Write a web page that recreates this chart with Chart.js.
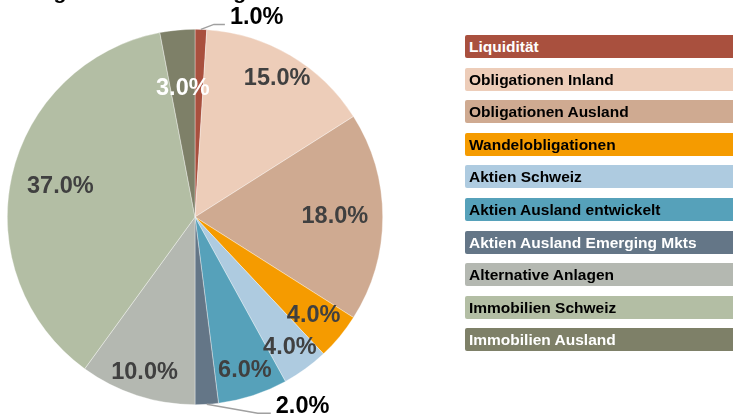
<!DOCTYPE html>
<html>
<head>
<meta charset="utf-8">
<script src="https://cdn.jsdelivr.net/npm/chart.js@4/dist/chart.umd.min.js"></script>
<style>
  html, body { margin: 0; padding: 0; background: #fff; }
  #wrap { position: relative; width: 733px; height: 420px; overflow: hidden; font-family: "Liberation Sans", Arial, sans-serif; }
  #wrap canvas { position: absolute; left: 0; top: 0; }
  .leg { position: absolute; left: 465px; width: 280px; height: 23px; border-radius: 2px;
         font: bold 15.5px "Liberation Sans", Arial, sans-serif; line-height: 23px; padding-left: 4px; box-sizing: border-box; white-space: nowrap; }
</style>
</head>
<body>
<div id="wrap">
  <canvas id="c" width="733" height="420"></canvas>
</div>
<script>
const titleText = "Strategische Gewichtung";
const categories = ["Liquidität", "Obligationen Inland", "Obligationen Ausland", "Wandelobligationen", "Aktien Schweiz", "Aktien Ausland entwickelt", "Aktien Ausland Emerging Mkts", "Alternative Anlagen", "Immobilien Schweiz", "Immobilien Ausland"];
const values = [1, 15, 18, 4, 4, 6, 2, 10, 37, 3];
const colors = ["#A9503E", "#EDCDB9", "#CFAA91", "#F59B00", "#AECBE0", "#56A1BA", "#647687", "#B4B8B1", "#B3BEA4", "#7E8068"];
const legendTextColors = ["#fff", "#000", "#000", "#000", "#000", "#000", "#fff", "#000", "#000", "#fff"];
const labelColors = ["#000", "#404040", "#404040", "#404040", "#404040", "#404040", "#000", "#404040", "#404040", "#fff"];
const labelRadius = [0, 0.86, 0.745, 0.82, 0.86, 0.86, 0, 0.87, 0.735, 0.69];
const outsideLabel = [true, false, false, false, false, false, true, false, false, false];

// legend
const wrap = document.getElementById('wrap');
categories.forEach((c, i) => {
  const d = document.createElement('div');
  d.className = 'leg';
  d.style.top = (35 + i * 32.6) + 'px';
  d.style.background = colors[i];
  d.style.color = legendTextColors[i];
  d.textContent = c;
  wrap.appendChild(d);
});

const labelPlugin = {
  id: 'labels',
  afterDraw(chart) {
    const ctx = chart.ctx;
    ctx.save();
    // title (cut off at top)
    ctx.font = 'bold 21px "Liberation Sans", Arial, sans-serif';
    ctx.fillStyle = '#000';
    ctx.textAlign = 'left';
    ctx.textBaseline = 'alphabetic';
    ctx.fillText(titleText, -6, -1.5);

    const meta = chart.getDatasetMeta(0);
    const total = values.reduce((a, b) => a + b, 0);
    const font = 'bold 23.5px "Liberation Sans", Arial, sans-serif';
    meta.data.forEach((arc, i) => {
      const p = arc.getProps(['x', 'y', 'startAngle', 'endAngle', 'outerRadius']);
      const mid = (p.startAngle + p.endAngle) / 2;
      const txt = (values[i] / total * 100).toFixed(1) + '%';
      ctx.font = font;
      ctx.textBaseline = 'middle';
      if (outsideLabel[i]) {
        const ex = p.x + Math.cos(mid) * p.outerRadius;
        const ey = p.y + Math.sin(mid) * p.outerRadius;
        const down = Math.sin(mid) > 0;
        const kx = ex + (down ? 51 : 13);
        const ky = ey + (down ? 9 : -5);
        const hx = kx + (down ? 13 : 11);
        ctx.strokeStyle = '#A0A0A0';
        ctx.lineWidth = 1.5;
        ctx.beginPath();
        ctx.moveTo(ex, ey);
        ctx.lineTo(kx, ky);
        ctx.lineTo(hx, ky);
        ctx.stroke();
        ctx.fillStyle = labelColors[i];
        ctx.textAlign = 'left';
        ctx.fillText(txt, hx + 5, ky - 7);
      } else {
        const r = p.outerRadius * labelRadius[i];
        ctx.fillStyle = labelColors[i];
        ctx.textAlign = 'center';
        ctx.fillText(txt, p.x + Math.cos(mid) * r, p.y + Math.sin(mid) * r);
      }
    });
    ctx.restore();
  }
};

new Chart(document.getElementById('c'), {
  type: 'pie',
  data: {
    labels: categories,
    datasets: [{ data: values, backgroundColor: colors, borderColor: 'rgba(255,255,255,0.6)', borderWidth: 0.6 }]
  },
  options: {
    responsive: false,
    animation: false,
    layout: { padding: { top: 29, bottom: 15, left: 7, right: 350 } },
    plugins: { legend: { display: false }, tooltip: { enabled: false }, title: { display: false } }
  },
  plugins: [labelPlugin]
});
</script>
</body>
</html>
